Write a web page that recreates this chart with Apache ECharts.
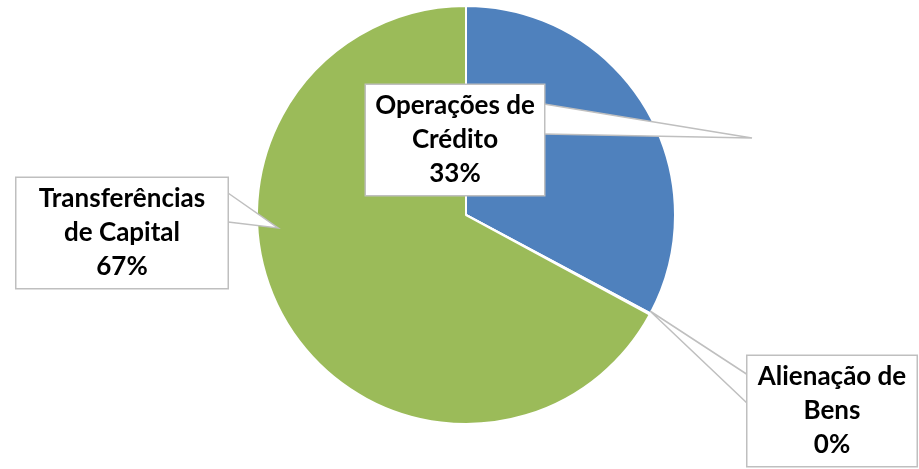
<!DOCTYPE html>
<html>
<head>
<meta charset="utf-8">
<script src="https://cdn.jsdelivr.net/npm/echarts@6/dist/echarts.min.js"></script>
<style>html,body{margin:0;padding:0;background:#fff}#c{width:919px;height:469px}</style>
</head>
<body>
<div id="c"></div>
<script>
const categories = ['Operações de\nCrédito', 'Alienação de\nBens', 'Transferências\nde Capital'];
const values = [32.8, 0.1, 67.1];
const colors = ['#4F81BD', '#C0504D', '#9BBB59'];

// label box placement (centre) and callout pointer geometry, per slice
const labelCentres = [[455, 140], [832, 411], [122, 233]];
const labelWidths = [162, 153, 195];
const pointerLines = [
  [[544, 104], [752, 138], [544, 134]],
  [[748, 375], [650, 311], [748, 404]],
  [[228, 193], [278, 228], [228, 222]]
];

const total = values.reduce((a, b) => a + b, 0);
const common = {
  type: 'pie',
  center: [466, 215],
  radius: [0, 209],
  startAngle: 90,
  clockwise: true,
  avoidLabelOverlap: false,
  silent: true
};
const chart = echarts.init(document.getElementById('c'));
chart.setOption({
  animation: false,
  backgroundColor: '#fff',
  series: [Object.assign({}, common, {
    z: 2,
    data: categories.map((n, i) => ({ name: n, value: values[i], itemStyle: { color: colors[i] } })),
    itemStyle: { borderColor: '#fff', borderWidth: 2 },
    label: { show: false },
    labelLine: { show: false }
  }), Object.assign({}, common, {
    z: 5,
    data: categories.map((n, i) => ({
      name: n, value: values[i],
      label: { width: labelWidths[i] }
    })),
    itemStyle: { color: 'rgba(0,0,0,0)', borderWidth: 0 },
    label: {
      show: true,
      position: 'outside',
      formatter: p => p.name + '\n' + Math.round(p.value / total * 100) + '%',
      fontFamily: 'Lato',
      fontWeight: 'bold',
      fontSize: 26,
      lineHeight: 34,
      color: '#000',
      align: 'center',
      backgroundColor: '#fff',
      borderColor: '#BFBFBF',
      borderWidth: 1.5,
      padding: [4, 8, 4, 8]
    },
    labelLine: { show: true, lineStyle: { color: '#BFBFBF', width: 1.5 } },
    labelLayout: p => ({
      x: labelCentres[p.dataIndex][0],
      y: labelCentres[p.dataIndex][1],
      align: 'center',
      verticalAlign: 'middle',
      labelLinePoints: pointerLines[p.dataIndex]
    })
  })]
});
// give the callout pointers a white fill like the original callout shapes
const zr = chart.getZr();
zr.storage.getDisplayList(true).forEach(el => {
  if (el.type === 'polyline') { el.style.fill = '#fff'; el.markRedraw(); }
});
zr.refreshImmediately();
</script>
</body>
</html>
